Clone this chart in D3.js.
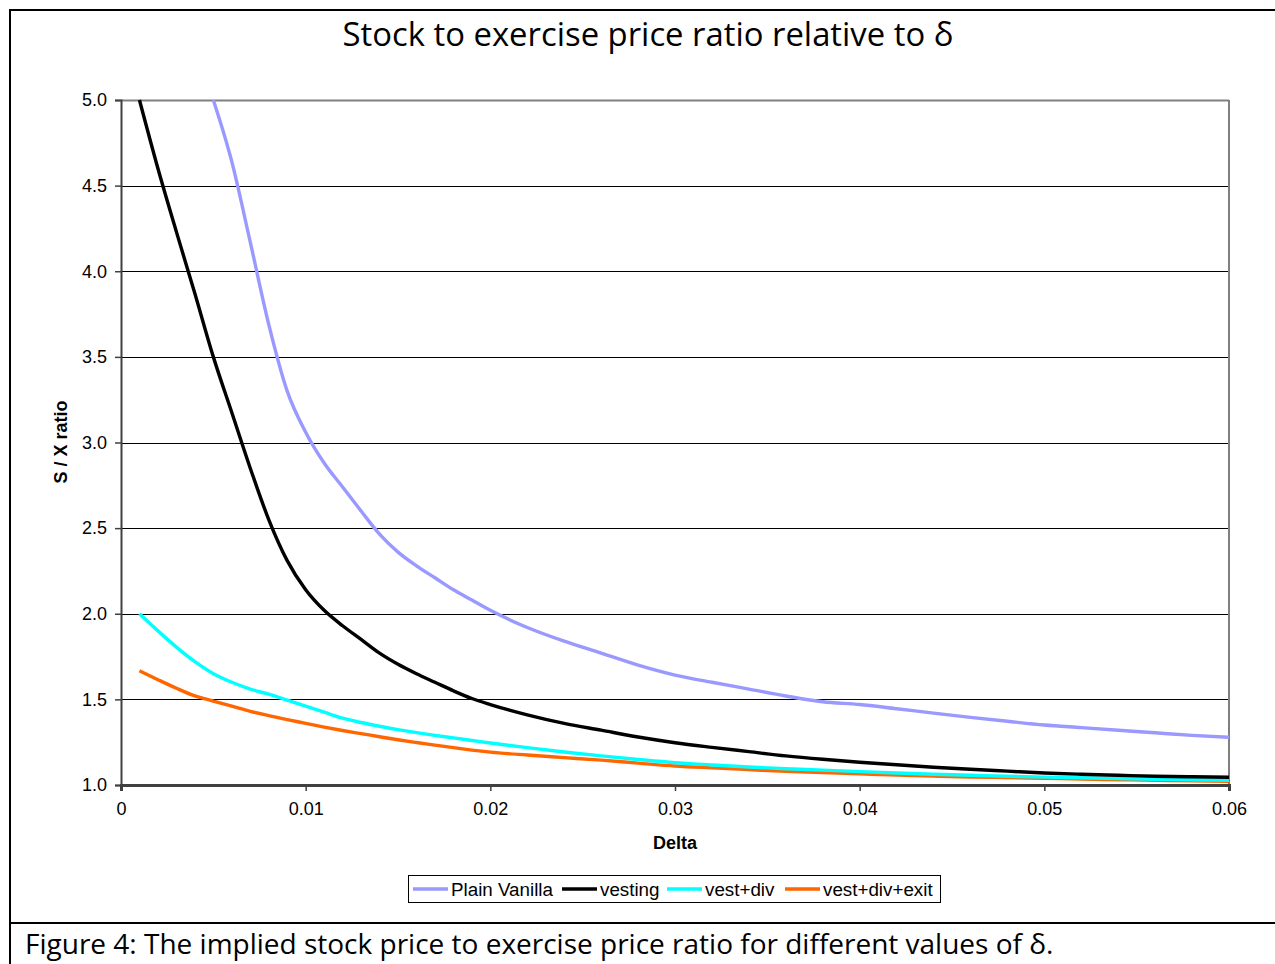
<!DOCTYPE html>
<html>
<head>
<meta charset="utf-8">
<script src="https://cdn.jsdelivr.net/npm/d3@7"></script>
<style>
  html, body { margin: 0; padding: 0; background: #fff; }
  svg { display: block; }
</style>
</head>
<body>
<svg id="chart" width="1275" height="964"></svg>
<script>
// Delta grid (x values)
const deltaFine = [0.001,0.002,0.003,0.004,0.005,0.006,0.007,0.008,0.009,0.010,
                   0.011,0.012,0.013,0.014,0.015,0.016,0.017,0.018,0.019,0.020];
const deltaCoarse = [0.022,0.024,0.026,0.028,0.030,0.032,0.034,0.036,0.038,0.040,
                     0.042,0.044,0.046,0.048,0.050,0.052,0.054,0.056,0.058,0.060];
const delta = deltaFine.concat(deltaCoarse);

// S/X ratio for each model (null = not defined at that delta)
const plainVanilla = [null,null,null,null,5.00,4.64,4.17,3.69,3.30,3.06,
                      2.88,2.74,2.60,2.465,2.36,2.28,2.21,2.14,2.08,2.02,
                      1.92,1.84,1.77,1.70,1.642,1.60,1.56,1.52,1.486,1.47,
                      1.445,1.42,1.395,1.372,1.35,1.335,1.32,1.305,1.29,1.279];
const vesting      = [5.00,4.60,4.23,3.87,3.50,3.175,2.85,2.55,2.31,2.14,
                      2.02,1.93,1.85,1.77,1.705,1.65,1.60,1.55,1.505,1.47,
                      1.41,1.36,1.32,1.28,1.247,1.22,1.195,1.17,1.15,1.133,
                      1.118,1.104,1.092,1.081,1.07,1.063,1.057,1.051,1.048,1.045];
const vestDiv      = [2.00,1.90,1.805,1.72,1.65,1.60,1.56,1.53,1.495,1.46,
                      1.425,1.39,1.365,1.343,1.323,1.306,1.29,1.275,1.26,1.245,
                      1.218,1.193,1.17,1.149,1.13,1.117,1.105,1.095,1.087,1.078,
                      1.07,1.063,1.057,1.051,1.046,1.042,1.038,1.034,1.031,1.028];
const vestDivExit  = [1.667,1.615,1.565,1.52,1.49,1.46,1.43,1.405,1.382,1.36,
                      1.338,1.318,1.30,1.282,1.264,1.248,1.233,1.218,1.204,1.192,
                      1.175,1.16,1.145,1.128,1.111,1.10,1.09,1.08,1.072,1.065,
                      1.058,1.052,1.047,1.043,1.039,1.035,1.031,1.027,1.024,1.021];

const seriesNames  = ["Plain Vanilla", "vesting", "vest+div", "vest+div+exit"];
const seriesValues = [plainVanilla, vesting, vestDiv, vestDivExit];
const seriesColors = ["#9999FF", "#000000", "#00FFFF", "#FF6600"];

const xTicks = [0, 0.01, 0.02, 0.03, 0.04, 0.05, 0.06];
const xTickLabels = ["0", "0.01", "0.02", "0.03", "0.04", "0.05", "0.06"];
const yTicks = [1.0, 1.5, 2.0, 2.5, 3.0, 3.5, 4.0, 4.5, 5.0];

const titleText = "Stock to exercise price ratio relative to \u03B4";
const captionText = "Figure 4: The implied stock price to exercise price ratio for different values of \u03B4.";

const svg = d3.select("#chart");
const W = 1275, H = 964;
const plot = { left: 121, right: 1229, top: 100, bottom: 785 };

const x = d3.scaleLinear().domain([0, 0.06]).range([plot.left, plot.right]);
const y = d3.scaleLinear().domain([1.0, 5.0]).range([plot.bottom, plot.top]);

// Frame around the chart and caption separator
svg.append("line").attr("x1", 10).attr("x2", W).attr("y1", 10).attr("y2", 10)
  .attr("stroke", "#000").attr("stroke-width", 2);
svg.append("line").attr("x1", 10).attr("x2", 10).attr("y1", 9).attr("y2", H)
  .attr("stroke", "#000").attr("stroke-width", 2);
svg.append("line").attr("x1", 10).attr("x2", W).attr("y1", 923).attr("y2", 923)
  .attr("stroke", "#000").attr("stroke-width", 2);

// Title
const title = svg.append("text")
  .attr("x", 648).attr("y", 46)
  .attr("text-anchor", "middle")
  .attr("font-family", "'Open Sans', 'Noto Sans', sans-serif")
  .attr("font-size", 30)
  .attr("fill", "#000")
  .text(titleText);
{
  const w = title.node().getComputedTextLength();
  title.attr("font-size", 30 * 611 / w);
}

// Gridlines
const gridG = svg.append("g");
gridG.selectAll("line").data(yTicks.filter(v => v > 1.0)).join("line")
  .attr("x1", plot.left).attr("x2", plot.right)
  .attr("y1", d => Math.round(y(d)) + 0.5).attr("y2", d => Math.round(y(d)) + 0.5)
  .attr("stroke", d => d === 5.0 ? "#808080" : "#000")
  .attr("stroke-width", d => d === 5.0 ? 2 : 1);

// Right border of plot area
svg.append("line").attr("x1", plot.right).attr("x2", plot.right)
  .attr("y1", plot.top).attr("y2", plot.bottom)
  .attr("stroke", "#808080").attr("stroke-width", 2);

// Axes
const axisFont = "'Liberation Sans', Arial, sans-serif";
const fs = 18;
const yAxis = d3.axisLeft(y).tickValues(yTicks).tickFormat(d3.format(".1f"))
  .tickSize(6).tickPadding(8);
const gy = svg.append("g").attr("transform", `translate(${plot.left},0)`).call(yAxis);
gy.select(".domain").attr("stroke", "#404040").attr("stroke-width", 2);
gy.selectAll(".tick line").attr("stroke", "#404040").attr("stroke-width", 1.5);
gy.selectAll(".tick text").attr("font-family", axisFont).attr("font-size", fs).attr("fill", "#000");

const xAxis = d3.axisBottom(x).tickValues(xTicks).tickFormat((d, i) => xTickLabels[i])
  .tickSize(6).tickPadding(11);
const gx = svg.append("g").attr("transform", `translate(0,${plot.bottom})`).call(xAxis);
gx.select(".domain").attr("stroke", "#404040").attr("stroke-width", 3);
gx.selectAll(".tick line").attr("stroke", "#404040").attr("stroke-width", 1.5);
gx.selectAll(".tick text").attr("font-family", axisFont).attr("font-size", fs).attr("fill", "#000");

// Axis titles
svg.append("text")
  .attr("x", 675).attr("y", 849)
  .attr("text-anchor", "middle")
  .attr("font-family", axisFont).attr("font-weight", "bold").attr("font-size", fs)
  .text("Delta");
svg.append("text")
  .attr("transform", "translate(67,442) rotate(-90)")
  .attr("text-anchor", "middle")
  .attr("font-family", axisFont).attr("font-weight", "bold").attr("font-size", fs)
  .text("S / X ratio");

// Series lines, clipped to the plot area
svg.append("clipPath").attr("id", "plotClip")
  .append("rect").attr("x", plot.left).attr("y", plot.top - 1)
  .attr("width", plot.right - plot.left).attr("height", plot.bottom - plot.top + 1);

const line = d3.line()
  .defined(d => d[1] !== null)
  .x(d => x(d[0])).y(d => y(d[1]))
  .curve(d3.curveMonotoneX);

const linesG = svg.append("g").attr("clip-path", "url(#plotClip)");
// draw in reverse so that earlier series sit on top where they overlap
for (let i = seriesValues.length - 1; i >= 0; i--) {
  const pts = delta.map((d, j) => [d, seriesValues[i][j]]);
  linesG.append("path")
    .attr("d", line(pts))
    .attr("fill", "none")
    .attr("stroke", seriesColors[i])
    .attr("stroke-width", 3.4)
    .attr("stroke-linejoin", "round");
}

// Legend
const legend = svg.append("g");
legend.append("rect")
  .attr("x", 408.5).attr("y", 875.5).attr("width", 532).attr("height", 27)
  .attr("fill", "#fff").attr("stroke", "#000").attr("stroke-width", 1);
const legendX = [413, 562, 667, 785];
seriesNames.forEach((name, i) => {
  legend.append("line")
    .attr("x1", legendX[i]).attr("x2", legendX[i] + 35)
    .attr("y1", 889).attr("y2", 889)
    .attr("stroke", seriesColors[i]).attr("stroke-width", 3.4);
  legend.append("text")
    .attr("x", legendX[i] + 38).attr("y", 895.5)
    .attr("font-family", axisFont).attr("font-size", 18.8)
    .text(name);
});

// Caption
const caption = svg.append("text")
  .attr("x", 25).attr("y", 954)
  .attr("font-family", "'Open Sans', 'Noto Sans', sans-serif")
  .attr("font-size", 25)
  .attr("fill", "#000")
  .text(captionText);
{
  const w = caption.node().getComputedTextLength();
  caption.attr("font-size", 25 * 1029 / w);
}
</script>
</body>
</html>
